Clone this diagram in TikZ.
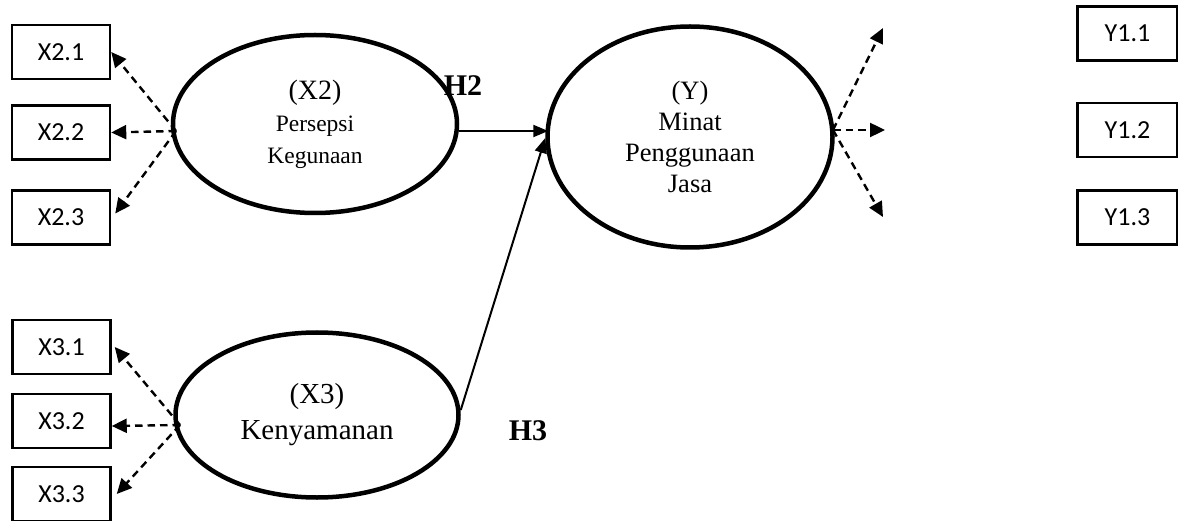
\documentclass[tikz,border=0pt]{standalone}
\usepackage{fontspec}
\setmainfont{Liberation Serif}
\newfontfamily\boxfont{Carlito}
\usetikzlibrary{shapes.geometric,arrows.meta}
\tikzset{
  indbox/.style={draw,line width=2.5pt,minimum width=98pt,minimum height=54pt,inner sep=0pt,
    font=\boxfont\fontsize{26}{30}\selectfont},
  latent/.style={draw,ellipse,line width=4.5pt,inner sep=0pt,align=center},
  dasharrow/.style={line width=2.4pt,dash pattern=on 7.5pt off 5pt,-{Triangle[length=15pt,width=14pt]}},
  patharrow/.style={line width=2pt,-{Triangle[length=15pt,width=12pt]}},
  hlabel/.style={font=\bfseries\fontsize{30}{34}\selectfont,inner sep=0pt}
}
\begin{document}
\begin{tikzpicture}[x=1pt,y=-1pt]
\useasboundingbox (0,0) rectangle (1178,521);
% indicator boxes
\node[indbox] (x21) at (61,52) {X2.1};
\node[indbox] (x22) at (61,132.5) {X2.2};
\node[indbox] (x23) at (61,217.5) {X2.3};
\node[indbox] (x31) at (61.5,347) {X3.1};
\node[indbox] (x32) at (61.5,421) {X3.2};
\node[indbox] (x33) at (61.5,494) {X3.3};
\node[indbox,minimum width=100pt] (y11) at (1127.5,33.5) {Y1.1};
\node[indbox,minimum width=100pt] (y12) at (1127.5,130) {Y1.2};
\node[indbox,minimum width=100pt] (y13) at (1127.5,217.5) {Y1.3};
% latent variables
\node[latent,minimum width=284pt,minimum height=178pt,font=\fontsize{23.5}{32}\selectfont] (x2) at (315,124)
  {{\fontsize{28}{32}\selectfont (X2)}\\Persepsi\\Kegunaan};
\node[latent,minimum width=283pt,minimum height=165pt,font=\fontsize{29}{36}\selectfont] (x3) at (317,415)
  {(X3)\\Kenyamanan};
\node[latent,minimum width=285pt,minimum height=221pt,font=\fontsize{26.5}{31}\selectfont] (y) at (690,137)
  {(Y)\\Minat\\Penggunaan\\Jasa};
% convergence points
\coordinate (x2p) at (176,131);
\coordinate (x3p) at (180,425);
\coordinate (yp) at (833,130);
\coordinate (yt1) at (883,28);
\coordinate (yt2) at (885,130);
\coordinate (yt3) at (883,217);
% dashed loadings
\draw[dasharrow] (x2p) -- (x21.east);
\draw[dasharrow] (x2p) -- (x22.east);
\draw[dasharrow] (x2p) -- ([xshift=4pt,yshift=4pt]x23.east);
\draw[dasharrow] (x3p) -- ([xshift=3pt]x31.east);
\draw[dasharrow] (x3p) -- ([yshift=-5pt]x32.east);
\draw[dasharrow] (x3p) -- ([xshift=5pt]x33.east);
\draw[dasharrow] (yp) -- (yt1);
\draw[dasharrow] (yp) -- (yt2);
\draw[dasharrow] (yp) -- (yt3);
% structural paths
\draw[patharrow] ([yshift=-7pt]x2.east) -- ([yshift=6pt,xshift=3pt]y.west);
\draw[patharrow] ([yshift=5pt]x3.east) -- ([yshift=-1pt]y.west);
\node[hlabel] (h2) at (463,86) {H2};
\node[hlabel] (h3) at (528,431) {H3};
\end{tikzpicture}
\end{document}
